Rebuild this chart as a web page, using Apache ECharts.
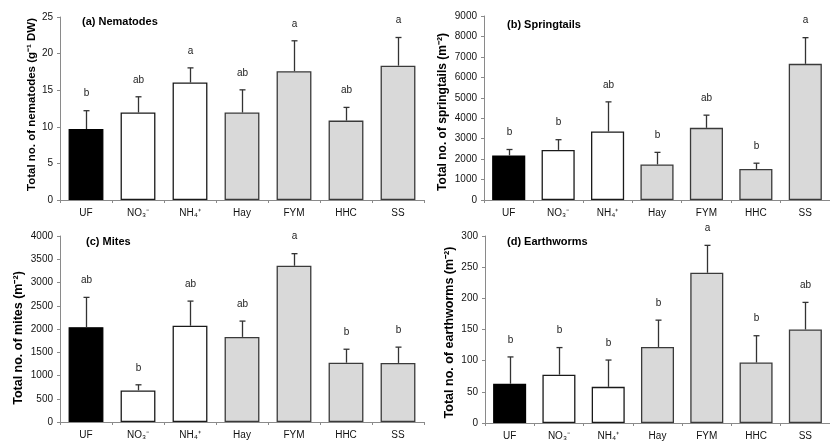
<!DOCTYPE html>
<html>
<head>
<meta charset="utf-8">
<script src="https://cdn.jsdelivr.net/npm/echarts@6/dist/echarts.min.js"></script>
<style>html,body{margin:0;padding:0;background:#fff}#c{width:830px;height:442px}</style>
</head>
<body>
<div id="c"></div>
<script>
const categories = ['UF', 'NO₃⁻', 'NH₄⁺', 'Hay', 'FYM', 'HHC', 'SS'];

const nematodeMean = [9.7, 11.95, 16.05, 11.95, 17.6, 10.85, 18.35];
const nematodeErr = [2.5, 2.15, 2.0, 3.1, 4.15, 1.8, 3.85];
const nematodeLetters = ['b', 'ab', 'a', 'ab', 'a', 'ab', 'a'];

const springtailMean = [2180, 2450, 3350, 1740, 3530, 1520, 6660];
const springtailErr = [290, 500, 1450, 590, 620, 280, 1280];
const springtailLetters = ['b', 'b', 'ab', 'b', 'ab', 'b', 'a'];

const miteMean = [2040, 680, 2070, 1830, 3360, 1275, 1270];
const miteErr = [640, 120, 530, 340, 260, 290, 340];
const miteLetters = ['ab', 'b', 'ab', 'ab', 'a', 'b', 'b'];

const earthwormMean = [63, 77.5, 58, 122, 241, 97, 150];
const earthwormErr = [43, 43.5, 43, 43, 44, 43, 43.5];
const earthwormLetters = ['b', 'b', 'b', 'b', 'a', 'b', 'ab'];

const yTicksA = {min: 0, max: 25, interval: 5};
const yTicksB = {min: 0, max: 9000, interval: 1000};
const yTicksC = {min: 0, max: 4000, interval: 500};
const yTicksD = {min: 0, max: 300, interval: 50};

const panels = [
  {title: '(a) Nematodes', yName: 'Total no. of nematodes (g⁻¹ DW)', mean: nematodeMean, err: nematodeErr, letters: nematodeLetters, ticks: yTicksA,
   grid: {left: 60, top: 17, width: 364, height: 183}, titlePos: {left: 82, top: 16}, nameGap: 22, nameSize: 11.5, namePad: [0, 0, 0, 8]},
  {title: '(b) Springtails', yName: 'Total no. of springtails (m⁻²)', mean: springtailMean, err: springtailErr, letters: springtailLetters, ticks: yTicksB,
   grid: {left: 484, top: 16, width: 354, height: 184}, titlePos: {left: 507, top: 19}, nameGap: 35, nameSize: 12, namePad: [0, 8, 0, 0]},
  {title: '(c) Mites', yName: 'Total no. of mites (m⁻²)', mean: miteMean, err: miteErr, letters: miteLetters, ticks: yTicksC,
   grid: {left: 60, top: 236, width: 364, height: 186}, titlePos: {left: 86, top: 236}, nameGap: 35, nameSize: 12.5, namePad: [0, 18, 0, 0]},
  {title: '(d) Earthworms', yName: 'Total no. of earthworms (m⁻²)', mean: earthwormMean, err: earthwormErr, letters: earthwormLetters, ticks: yTicksD,
   grid: {left: 485, top: 236, width: 357, height: 187}, titlePos: {left: 507, top: 236}, nameGap: 29, nameSize: 12.5, namePad: [0, 6, 0, 0]}
];

const FONT = '"Liberation Sans", Arial, sans-serif';
const barStyle = [
  {color: '#000000', borderColor: '#000000'},
  {color: '#ffffff', borderColor: '#1a1a1a'},
  {color: '#ffffff', borderColor: '#1a1a1a'},
  {color: '#d9d9d9', borderColor: '#3a3a3a'},
  {color: '#d9d9d9', borderColor: '#3a3a3a'},
  {color: '#d9d9d9', borderColor: '#3a3a3a'},
  {color: '#d9d9d9', borderColor: '#3a3a3a'}
];

const option = {
  animation: false,
  backgroundColor: '#ffffff',
  title: [], grid: [], xAxis: [], yAxis: [], series: []
};

panels.forEach((p, i) => {
  option.title.push({
    text: p.title, left: p.titlePos.left, top: p.titlePos.top, padding: 0,
    textStyle: {fontFamily: FONT, fontSize: 11, fontWeight: 'bold', color: '#000'}
  });
  option.grid.push(Object.assign({containLabel: false}, p.grid));
  option.xAxis.push({
    type: 'category', gridIndex: i, data: categories,
    axisLine: {lineStyle: {color: '#8a8a8a', width: 1}},
    axisTick: {show: true, length: 3, lineStyle: {color: '#8a8a8a'}},
    axisLabel: {fontFamily: FONT, fontSize: 10, color: '#111', margin: 8},
    splitLine: {show: false}
  });
  option.yAxis.push({
    type: 'value', gridIndex: i, min: p.ticks.min, max: p.ticks.max, interval: p.ticks.interval,
    name: p.yName, nameLocation: 'middle', nameGap: p.nameGap, nameRotate: 90,
    nameTextStyle: {fontFamily: FONT, fontSize: p.nameSize, fontWeight: 'bold', color: '#000', padding: p.namePad},
    axisLine: {show: true, lineStyle: {color: '#8a8a8a', width: 1}},
    axisTick: {show: true, length: 3, lineStyle: {color: '#8a8a8a'}},
    axisLabel: {fontFamily: FONT, fontSize: 10, color: '#111', margin: 7, formatter: v => String(v)},
    splitLine: {show: false}
  });
  option.series.push({
    type: 'bar', xAxisIndex: i, yAxisIndex: i, barCategoryGap: '33%',
    data: p.mean.map((v, k) => ({value: v, itemStyle: {color: barStyle[k].color, borderColor: barStyle[k].borderColor, borderWidth: 1.3}})),
    emphasis: {disabled: true}
  });
  option.series.push({
    type: 'custom', xAxisIndex: i, yAxisIndex: i, z: 10,
    data: p.mean.map((v, k) => [k, v, v + p.err[k]]),
    renderItem: function (params, api) {
      const k = api.value(0);
      const base = api.coord([k, api.value(1)]);
      const top = api.coord([k, api.value(2)]);
      const x = Math.round(base[0]) + 0.5;
      const capW = 3;
      return {
        type: 'group',
        children: [
          {type: 'line', shape: {x1: x, y1: base[1], x2: x, y2: top[1]}, style: {stroke: '#333', lineWidth: 1.3}},
          {type: 'line', shape: {x1: x - capW, y1: top[1], x2: x + capW, y2: top[1]}, style: {stroke: '#333', lineWidth: 1.3}},
          {type: 'text', x: x, y: top[1] - 12, style: {text: p.letters[k], align: 'center', verticalAlign: 'bottom', font: '10px ' + FONT, fill: '#222'}}
        ]
      };
    }
  });
});

const chart = echarts.init(document.getElementById('c'), null, {renderer: 'canvas'});
chart.setOption(option);
</script>
</body>
</html>
